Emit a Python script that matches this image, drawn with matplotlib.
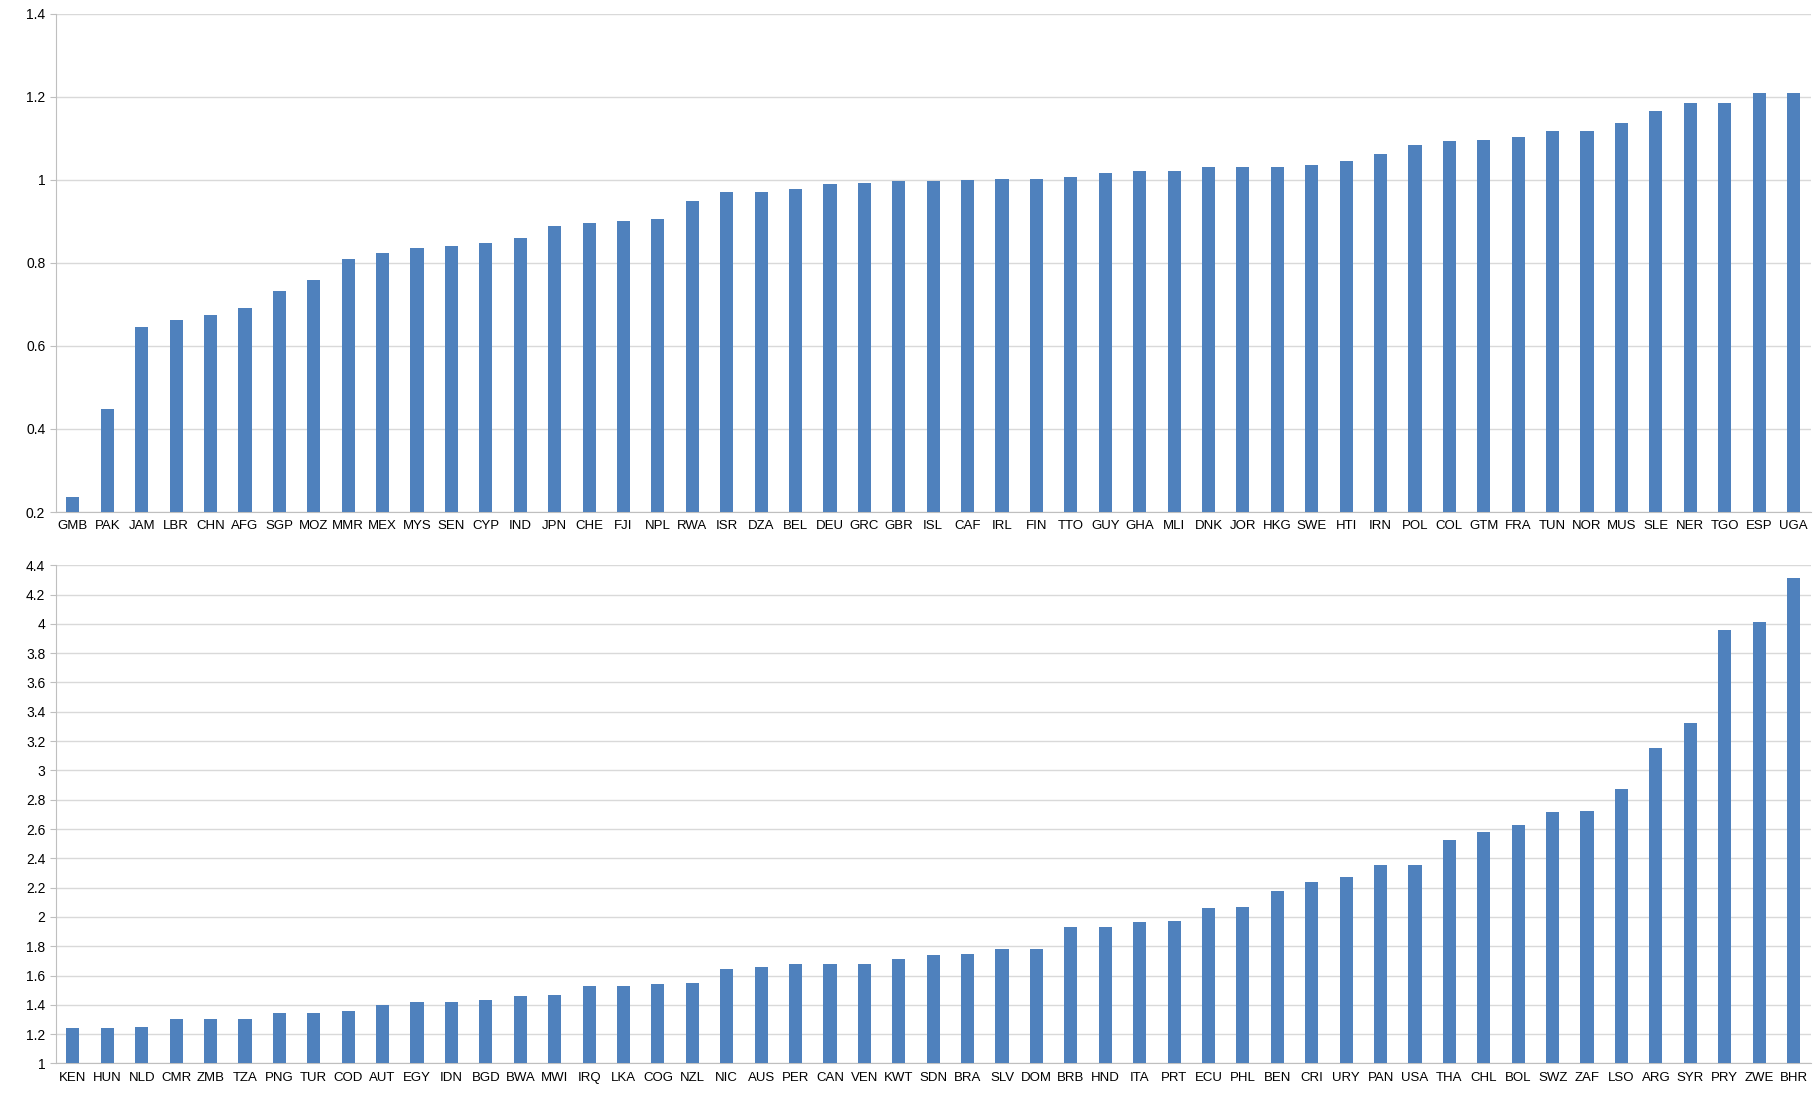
import matplotlib.pyplot as plt
import numpy as np

top_labels = ["GMB","PAK","JAM","LBR","CHN","AFG","SGP","MOZ","MMR","MEX","MYS","SEN","CYP","IND","JPN","CHE","FJI","NPL","RWA","ISR","DZA","BEL","DEU","GRC","GBR","ISL","CAF","IRL","FIN","TTO","GUY","GHA","MLI","DNK","JOR","HKG","SWE","HTI","IRN","POL","COL","GTM","FRA","TUN","NOR","MUS","SLE","NER","TGO","ESP","UGA"]
top_values = [0.237,0.447,0.645,0.662,0.675,0.692,0.732,0.758,0.81,0.824,0.837,0.84,0.847,0.86,0.89,0.897,0.9,0.905,0.95,0.97,0.97,0.977,0.99,0.993,0.997,0.997,1.0,1.003,1.003,1.006,1.016,1.022,1.022,1.03,1.03,1.03,1.036,1.046,1.063,1.083,1.093,1.097,1.103,1.117,1.117,1.136,1.166,1.186,1.186,1.21,1.21]

bot_labels = ["KEN","HUN","NLD","CMR","ZMB","TZA","PNG","TUR","COD","AUT","EGY","IDN","BGD","BWA","MWI","IRQ","LKA","COG","NZL","NIC","AUS","PER","CAN","VEN","KWT","SDN","BRA","SLV","DOM","BRB","HND","ITA","PRT","ECU","PHL","BEN","CRI","URY","PAN","USA","THA","CHL","BOL","SWZ","ZAF","LSO","ARG","SYR","PRY","ZWE","BHR"]
bot_values = [1.24,1.24,1.25,1.3,1.3,1.3,1.345,1.345,1.355,1.4,1.42,1.42,1.43,1.46,1.465,1.53,1.53,1.54,1.55,1.645,1.655,1.68,1.68,1.68,1.71,1.74,1.75,1.78,1.78,1.93,1.93,1.965,1.975,2.06,2.065,2.18,2.235,2.275,2.355,2.355,2.525,2.58,2.625,2.715,2.72,2.87,3.155,3.325,3.96,4.015,4.315]

plt.rcParams['font.family'] = ['Liberation Sans', 'DejaVu Sans']
fig = plt.figure(figsize=(18.2, 10.97), dpi=100)
ax1 = fig.add_axes([48/1568, 1-442/947, (1560-48)/1568, (442-12)/947])
ax2 = fig.add_axes([48/1568, 1-918/947, (1560-48)/1568, (918-488)/947])

def draw(ax, labels, values, lo, hi, step):
    x = np.arange(len(labels))
    ax.bar(x, np.array(values) - lo, bottom=lo, width=0.38, color='#4F81BD', zorder=3)
    ax.set_xlim(-0.5, len(labels) - 0.5)
    ax.set_ylim(lo, hi)
    ticks = np.round(np.arange(lo, hi + step / 2, step), 2)
    ax.set_yticks(ticks)
    ax.set_yticklabels(['%g' % t for t in ticks], fontsize=10)
    ax.set_xticks(x)
    ax.set_xticklabels(labels, fontsize=9.5)
    ax.tick_params(axis='x', length=0, pad=6)
    ax.tick_params(axis='y', length=4, color='#BFBFBF')
    ax.grid(axis='y', color='#D9D9D9', linewidth=1, zorder=0)
    for s in ['top', 'right']:
        ax.spines[s].set_visible(False)
    ax.spines['left'].set_color('#BFBFBF')
    ax.spines['bottom'].set_color('#BFBFBF')

draw(ax1, top_labels, top_values, 0.2, 1.4, 0.2)
draw(ax2, bot_labels, bot_values, 1.0, 4.4, 0.2)

fig.savefig('out.png', dpi=100)
